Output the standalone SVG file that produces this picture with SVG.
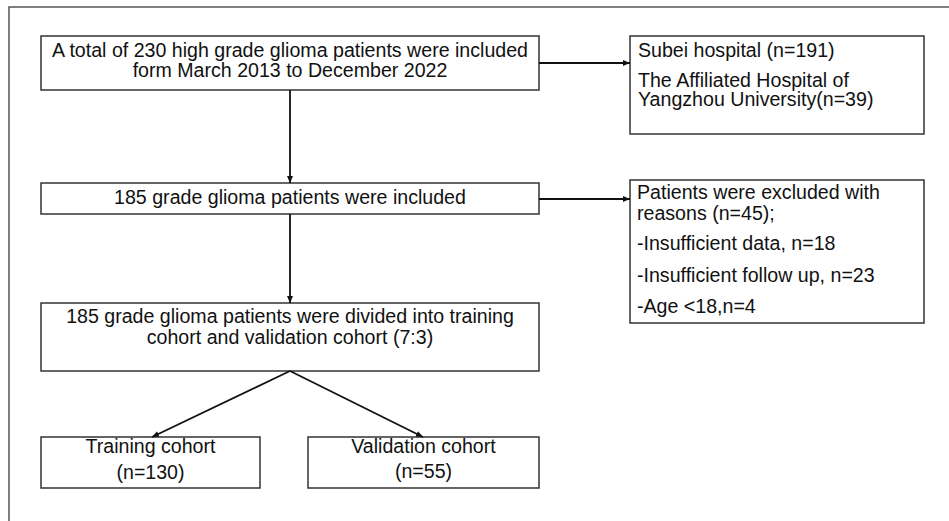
<svg xmlns="http://www.w3.org/2000/svg" width="949" height="521" viewBox="0 0 949 521">
<style>
.box{fill:#fff;stroke:#333;stroke-width:1.5}
.t{font-family:"Liberation Sans",Arial,sans-serif;font-size:19.6px;fill:#111}
.c{text-anchor:middle}
.edge{stroke:#111;stroke-width:1.8;fill:none;marker-end:url(#ah)}
</style>
<defs>
<marker id="ah" markerUnits="userSpaceOnUse" markerWidth="8" markerHeight="8" refX="7" refY="3" orient="auto">
<path d="M0,0 L7,3 L0,6 Z" fill="#111"/>
</marker>
</defs>
<rect width="949" height="521" fill="#fff"/>
<path d="M9,521 V7 H949" fill="none" stroke="#555" stroke-width="1.5"/>
<g id="n1">
<rect class="box" x="41" y="36" width="498" height="54"/>
<text class="t c" x="290" y="57">A total of 230 high grade glioma patients were included</text>
<text class="t c" x="290" y="77">form March 2013 to December 2022</text>
</g>
<g id="n2">
<rect class="box" x="630" y="36" width="294" height="98"/>
<text class="t" x="638" y="57">Subei hospital (n=191)</text>
<text class="t" x="638" y="87">The Affiliated Hospital of</text>
<text class="t" x="638" y="106">Yangzhou University(n=39)</text>
</g>
<g id="n3">
<rect class="box" x="41" y="183" width="498" height="31"/>
<text class="t c" x="290" y="204">185 grade glioma patients were included</text>
</g>
<g id="n4">
<rect class="box" x="630" y="180" width="294" height="143"/>
<text class="t" x="637" y="199">Patients were excluded with</text>
<text class="t" x="637" y="220">reasons (n=45);</text>
<text class="t" x="637" y="250">-Insufficient data, n=18</text>
<text class="t" x="637" y="282">-Insufficient follow up, n=23</text>
<text class="t" x="637" y="313">-Age &lt;18,n=4</text>
</g>
<g id="n5">
<rect class="box" x="41" y="303" width="498" height="68"/>
<text class="t c" x="290" y="323">185 grade glioma patients were divided into training</text>
<text class="t c" x="290" y="344">cohort and validation cohort (7:3)</text>
</g>
<g id="n6">
<rect class="box" x="41" y="437" width="219" height="51"/>
<text class="t c" x="150.5" y="453">Training cohort</text>
<text class="t c" x="150.5" y="479">(n=130)</text>
</g>
<g id="n7">
<rect class="box" x="308" y="437" width="231" height="51"/>
<text class="t c" x="423.5" y="453">Validation cohort</text>
<text class="t c" x="423.5" y="478">(n=55)</text>
</g>
<g id="connectors">
<line class="edge" x1="290" y1="90" x2="290" y2="183"/>
<line class="edge" x1="539" y1="63" x2="630" y2="63"/>
<line class="edge" x1="539" y1="199" x2="630" y2="199"/>
<line class="edge" x1="290" y1="214" x2="290" y2="303"/>
<line class="edge" x1="290" y1="371" x2="152" y2="437"/>
<line class="edge" x1="290" y1="371" x2="423" y2="437"/>
</g>
</svg>
